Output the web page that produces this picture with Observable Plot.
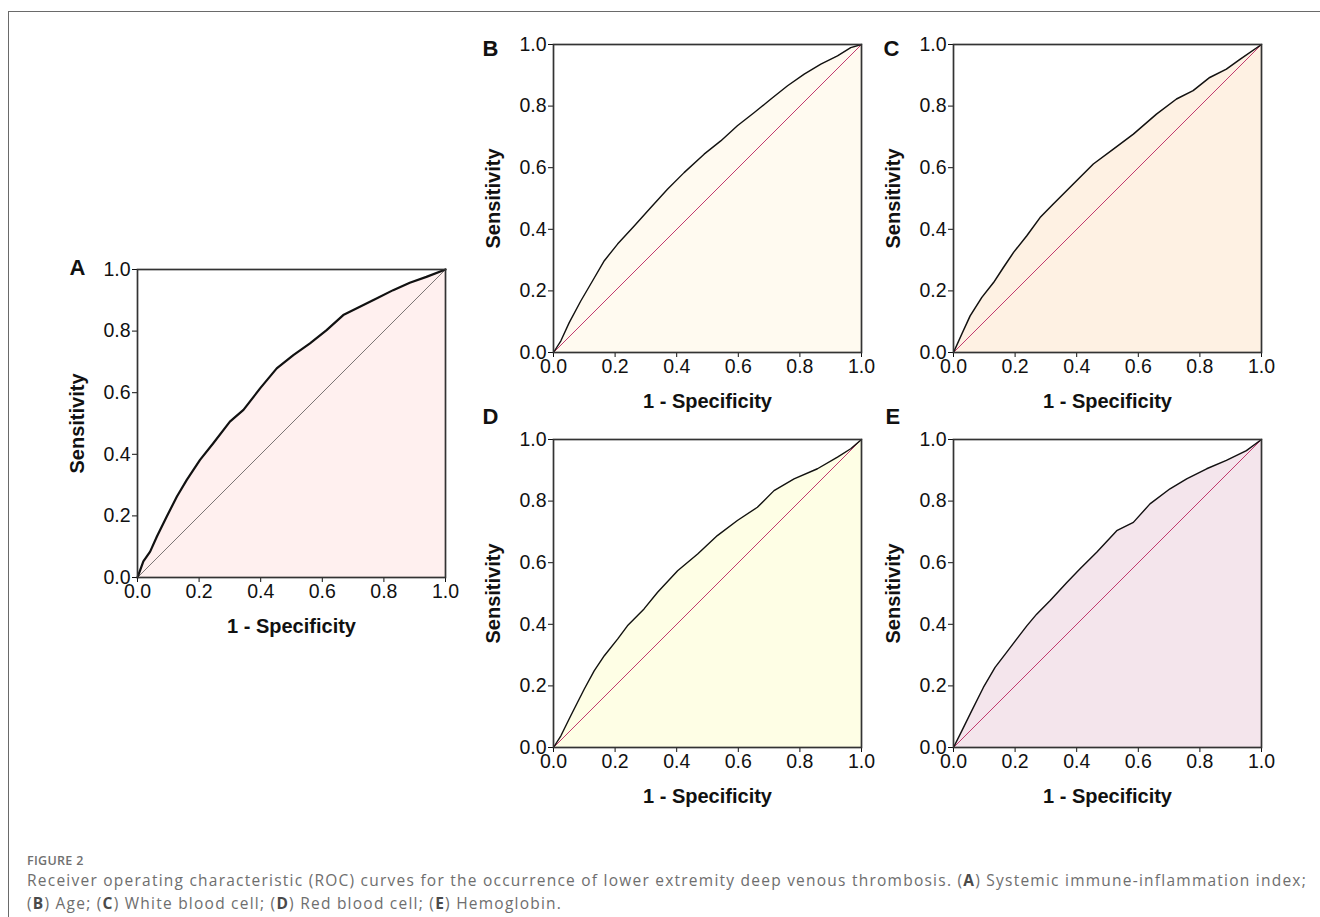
<!DOCTYPE html>
<html><head><meta charset="utf-8">
<script src="https://cdn.jsdelivr.net/npm/d3@7"></script>
<script src="https://cdn.jsdelivr.net/npm/@observablehq/plot@0.6"></script>
<style>
html,body{margin:0;padding:0;background:#fff}
body{width:1320px;height:917px;position:relative;overflow:hidden;font-family:Arial,"Liberation Sans",Helvetica,sans-serif}
.panel{position:absolute}
.panel svg{background:transparent !important;overflow:visible}
#border{position:absolute;left:8px;top:11px;width:1330px;height:920px;border-top:1.5px solid #6a6a6a;border-left:1.5px solid #6a6a6a}
.cap{position:absolute;left:27px;white-space:nowrap;font-family:"Open Sans",Lato,sans-serif;color:#6e6e6e;line-height:1}
.cap b{font-weight:700;color:#4a4a4a}
</style></head>
<body>
<div id="border"></div>
<div id="pA" class="panel" style="left:47px;top:234px"></div>
<div id="pB" class="panel" style="left:463px;top:9px"></div>
<div id="pC" class="panel" style="left:863px;top:9px"></div>
<div id="pD" class="panel" style="left:463px;top:404px"></div>
<div id="pE" class="panel" style="left:863px;top:404px"></div>
<div class="cap" id="fig" style="top:855px;font-size:12.5px;font-weight:600;color:#707070;letter-spacing:0.3px">FIGURE 2</div>
<div class="cap" id="l1" style="top:873px;font-size:15.5px">Receiver operating characteristic (ROC) curves for the occurrence of lower extremity deep venous thrombosis. (<b>A</b>) Systemic immune-inflammation index;</div>
<div class="cap" id="l2" style="top:896px;font-size:15.5px">(<b>B</b>) Age; (<b>C</b>) White blood cell; (<b>D</b>) Red blood cell; (<b>E</b>) Hemoglobin.</div>
<script>
// ---- data ----
const tickValues = [0, 0.2, 0.4, 0.6, 0.8, 1.0];
const chanceLine = [0, 1];
const xAxisLabel = "1 - Specificity";
const yAxisLabel = "Sensitivity";
const panelLetters = ["A", "B", "C", "D", "E"];

const fprA = [0,0.019,0.041,0.063,0.095,0.128,0.160,0.203,0.246,0.300,0.344,0.398,0.452,0.506,0.560,0.614,0.668,0.722,0.776,0.830,0.884,0.938,1];
const tprA = [0,0.052,0.084,0.133,0.198,0.263,0.317,0.382,0.436,0.506,0.544,0.614,0.679,0.722,0.760,0.803,0.852,0.879,0.906,0.933,0.957,0.976,1];

const fprB = [0,0.024,0.051,0.089,0.127,0.165,0.208,0.262,0.316,0.370,0.424,0.489,0.543,0.597,0.652,0.706,0.760,0.814,0.868,0.922,0.965,1];
const tprB = [0,0.038,0.097,0.168,0.233,0.298,0.352,0.411,0.471,0.530,0.584,0.644,0.687,0.736,0.779,0.823,0.866,0.904,0.936,0.963,0.990,1];

const fprC = [0,0.027,0.054,0.092,0.130,0.162,0.195,0.238,0.281,0.324,0.389,0.454,0.519,0.584,0.659,0.724,0.778,0.832,0.886,0.930,1];
const tprC = [0,0.060,0.119,0.179,0.227,0.276,0.325,0.379,0.438,0.482,0.547,0.612,0.660,0.709,0.774,0.823,0.850,0.893,0.920,0.952,1];

const fprD = [0,0.024,0.056,0.100,0.132,0.165,0.208,0.240,0.294,0.338,0.403,0.468,0.532,0.597,0.662,0.716,0.781,0.857,0.922,0.965,1];
const tprD = [0,0.038,0.103,0.190,0.249,0.298,0.352,0.395,0.450,0.504,0.574,0.628,0.688,0.737,0.780,0.834,0.872,0.905,0.943,0.970,1];

const fprE = [0,0.027,0.059,0.097,0.135,0.168,0.205,0.238,0.270,0.314,0.368,0.411,0.465,0.530,0.584,0.638,0.703,0.757,0.822,0.886,0.951,1];
const tprE = [0,0.054,0.119,0.195,0.260,0.303,0.352,0.395,0.433,0.477,0.536,0.580,0.634,0.704,0.731,0.791,0.840,0.872,0.905,0.932,0.964,1];

const fillColors = ["#fff0ef", "#fffaf0", "#fef1e3", "#fefee5", "#f4e5ec"];

// ---- drawing ----
const FONT = "Arial, 'Liberation Sans', Helvetica, sans-serif";
function panel(opts) {
  const data = opts.fpr.map((x, i) => ({x, y: opts.tpr[i]}));
  return Plot.plot({
    width: 418, height: 408,
    marginLeft: 90, marginRight: 20, marginTop: 35, marginBottom: 65,
    style: {background: "transparent", fontFamily: FONT, fontSize: "19.5px", color: "#111", overflow: "visible"},
    x: {domain: [0, 1], ticks: tickValues, tickFormat: d3.format(".1f"), tickSize: 5, tickPadding: 2, label: null},
    y: {domain: [0, 1], ticks: tickValues, tickFormat: d3.format(".1f"), tickSize: 5, tickPadding: 2, label: null},
    marks: [
      Plot.areaY(data, {x: "x", y: "y", fill: opts.fill}),
      Plot.line(chanceLine, {x: d => d, y: d => d, stroke: opts.diag, strokeWidth: opts.diagWidth}),
      Plot.line(data, {x: "x", y: "y", stroke: "#111", strokeWidth: opts.curveWidth}),
      Plot.frame({stroke: "#333", strokeWidth: 1.7}),
      Plot.text([xAxisLabel], {frameAnchor: "bottom", dy: 49, lineAnchor: "middle", textAnchor: "middle", text: d => d, fontWeight: "bold", fontSize: 20, fill: "#111"}),
      Plot.text([yAxisLabel], {frameAnchor: "left", dx: -60, rotate: -90, lineAnchor: "middle", textAnchor: "middle", text: d => d, fontWeight: "bold", fontSize: 20, fill: "#111"}),
      Plot.text([opts.letter], {frameAnchor: "top-left", dx: opts.ldx, dy: opts.ldy, textAnchor: "start", lineAnchor: "middle", text: d => d, fontWeight: "bold", fontSize: 22, fill: "#111"})
    ]
  });
}

const specs = [
  {id: "pA", letter: panelLetters[0], fpr: fprA, tpr: tprA, fill: fillColors[0], diag: "#222", diagWidth: 0.6, curveWidth: 2.2, ldx: -68, ldy: -2},
  {id: "pB", letter: panelLetters[1], fpr: fprB, tpr: tprB, fill: fillColors[1], diag: "#c23a6e", diagWidth: 1, curveWidth: 1.4, ldx: -71, ldy: 4.5},
  {id: "pC", letter: panelLetters[2], fpr: fprC, tpr: tprC, fill: fillColors[2], diag: "#c23a6e", diagWidth: 1, curveWidth: 1.5, ldx: -70, ldy: 4.5},
  {id: "pD", letter: panelLetters[3], fpr: fprD, tpr: tprD, fill: fillColors[3], diag: "#c23a6e", diagWidth: 1, curveWidth: 1.4, ldx: -71, ldy: -23},
  {id: "pE", letter: panelLetters[4], fpr: fprE, tpr: tprE, fill: fillColors[4], diag: "#c23a6e", diagWidth: 1, curveWidth: 1.4, ldx: -68, ldy: -23}
];
for (const s of specs) document.getElementById(s.id).appendChild(panel(s));

// stretch first caption line to the reference width
const l1 = document.getElementById("l1");
const w = l1.getBoundingClientRect().width;
const n = l1.textContent.length;
const ls = (1280 - w) / n;
l1.style.letterSpacing = ls + "px";
document.getElementById("l2").style.letterSpacing = ls + "px";
</script>
</body></html>
